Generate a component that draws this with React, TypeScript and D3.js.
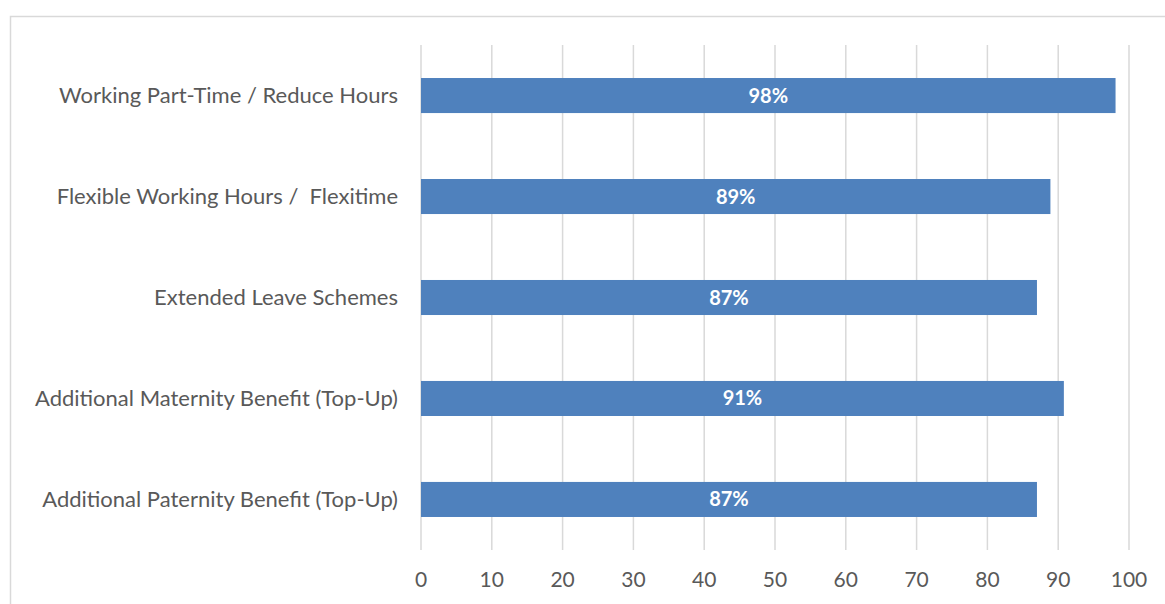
import React from "react";
import * as d3 from "d3";

const categories = [
  "Working Part-Time / Reduce Hours",
  "Flexible Working Hours /  Flexitime",
  "Extended Leave Schemes",
  "Additional Maternity Benefit (Top-Up)",
  "Additional Paternity Benefit (Top-Up)",
];
const values = [98.1, 88.9, 87, 90.8, 87];
const labels = ["98%", "89%", "87%", "91%", "87%"];
const ticks = [0, 10, 20, 30, 40, 50, 60, 70, 80, 90, 100];

const W = 1165;
const H = 604;
const FONT = "Lato, 'Open Sans', sans-serif";

export default function App() {
  const x = d3.scaleLinear().domain([0, 100]).range([421, 1129]);
  const y = d3.scaleBand<string>().domain(categories).range([45, 550]).paddingInner(0.653).paddingOuter(0.327);
  const gridTop = 45;
  const gridBottom = 550;

  return (
    <svg
      width={W}
      height={H}
      style={{ position: "absolute", left: 0, top: 0, background: "#fff" }}
      fontFamily={FONT}
    >
      <rect x={0} y={0} width={W} height={H} fill="#fff" />
      <path d={`M10.5,${H + 5} L10.5,16.5 L${W + 5},16.5`} fill="none" stroke="#d9d9d9" strokeWidth={1.5} />
      {ticks.map((t) => (
        <line key={t} x1={x(t)} x2={x(t)} y1={gridTop} y2={gridBottom} stroke="#d9d9d9" strokeWidth={1.5} />
      ))}
      {categories.map((c, i) => (
        <g key={c}>
          <rect x={x(0)} y={y(c)} width={x(values[i]) - x(0)} height={y.bandwidth()} fill="#4f81bd" />
          <text
            x={(x(0) + x(values[i])) / 2}
            y={(y(c) as number) + y.bandwidth() / 2}
            dy="0.35em"
            textAnchor="middle"
            fill="#fff"
            fontWeight="bold"
            fontSize={20}
          >
            {labels[i]}
          </text>
          <text
            x={398}
            y={(y(c) as number) + y.bandwidth() / 2}
            dy="0.35em"
            textAnchor="end"
            fill="#595959"
            fontSize={22}
            style={{ whiteSpace: "pre" }}
          >
            {c}
          </text>
        </g>
      ))}
      {ticks.map((t) => (
        <text key={t} x={x(t)} y={580} dy="0.35em" textAnchor="middle" fill="#595959" fontSize={21}>
          {t}
        </text>
      ))}
    </svg>
  );
}
